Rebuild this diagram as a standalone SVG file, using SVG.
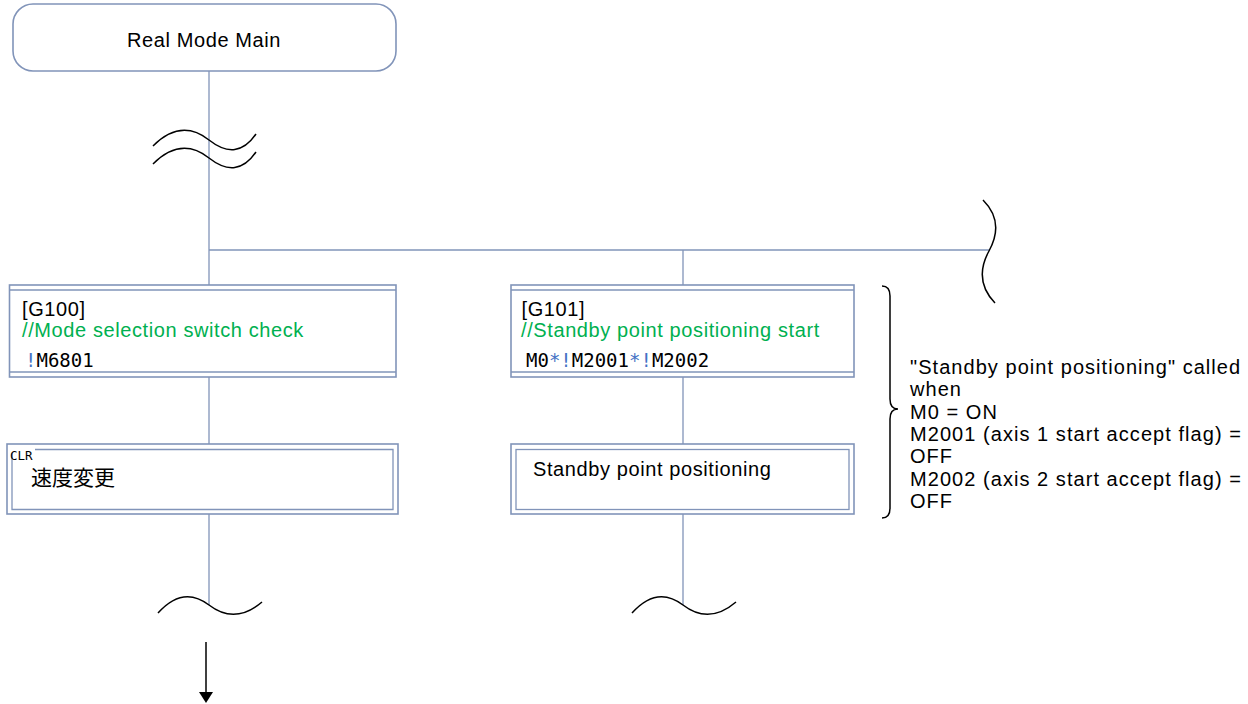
<svg xmlns="http://www.w3.org/2000/svg" width="1248" height="704" viewBox="0 0 1248 704">
<style>
.box{fill:#fff;stroke:#8194b9;stroke-width:1.6}
.ln{fill:none;stroke:#8194b9;stroke-width:1.3}
.blk{fill:none;stroke:#000;stroke-width:1.5}
.t{font-family:"Liberation Sans",Arial,sans-serif;font-size:20px;letter-spacing:0.6px;fill:#000}
.g{fill:#00b050}
.m{font-family:"DejaVu Sans Mono","Liberation Mono",monospace;font-size:19px;fill:#000}
.b{fill:#4472c4}
.a{font-family:"Liberation Sans",Arial,sans-serif;font-size:20px;letter-spacing:1.05px;fill:#000}
</style>
<rect width="1248" height="704" fill="#fff"/>
<g id="connectors">
<line class="ln" x1="209" y1="71" x2="209" y2="285"/>
<line class="ln" x1="209" y1="250" x2="989" y2="250"/>
<line class="ln" x1="683" y1="250" x2="683" y2="285"/>
<line class="ln" x1="209" y1="377" x2="209" y2="444"/>
<line class="ln" x1="683" y1="377" x2="683" y2="444"/>
<line class="ln" x1="209" y1="514" x2="209" y2="605"/>
<line class="ln" x1="683" y1="514" x2="683" y2="605"/>
<path class="blk" d="M206,642 L206,693"/>
<polygon points="199,692 213,692 206,703" fill="#000"/>
</g>
<g id="breaks">
<path class="blk" d="M153,146 Q181,118 209,140 T256,134"/>
<path class="blk" d="M153,164 Q181,136 209,158 T256,152"/>
<path class="blk" d="M158,613 Q183,585 209,605 T262,602"/>
<path class="blk" d="M632,613 Q657,585 683,605 T736,602"/>
<path class="blk" d="M983,200 Q1005,222 989,251 T995,303"/>
</g>
<g id="start">
<rect class="box" x="13" y="4" width="383" height="67" rx="20" ry="20"/>
<text class="t" x="204" y="47" text-anchor="middle">Real Mode Main</text>
</g>
<g id="g100">
<rect class="box" x="9.5" y="285" width="386.5" height="92"/>
<line class="ln" x1="9.5" y1="290" x2="396" y2="290"/>
<line class="ln" x1="9.5" y1="372" x2="396" y2="372"/>
<text class="t" x="22" y="316">[G100]</text>
<text class="t g" x="22" y="337">//Mode selection switch check</text>
<text class="m" x="25" y="367"><tspan class="b">!</tspan>M6801</text>
</g>
<g id="g101">
<rect class="box" x="511" y="285" width="343" height="92"/>
<line class="ln" x1="511" y1="290" x2="854" y2="290"/>
<line class="ln" x1="511" y1="372" x2="854" y2="372"/>
<text class="t" x="521.5" y="316">[G101]</text>
<text class="t g" x="521" y="337">//Standby point positioning start</text>
<text class="m" x="526" y="367">M0<tspan class="b">*!</tspan>M2001<tspan class="b">*!</tspan>M2002</text>
</g>
<g id="clr">
<rect class="box" x="7" y="444" width="391" height="70"/>
<path class="ln" d="M35,449.5 L393,449.5 L393,509.5 L12,509.5 L12,453"/>
<text x="10" y="459.5" style="font-family:'DejaVu Sans Mono','Liberation Mono',monospace;font-size:12.5px;fill:#000">CLR</text>
<text x="31" y="485" style="font-family:'Noto Sans CJK JP',sans-serif;font-size:21px;fill:#000">速度変更</text>
</g>
<g id="standby">
<rect class="box" x="511" y="444" width="343" height="70"/>
<rect class="ln" x="516" y="449.5" width="333" height="60"/>
<text class="t" x="533" y="476">Standby point positioning</text>
</g>
<g id="note">
<path class="blk" d="M882,286 Q890,286 890,296 L890,399 Q890,409 898,409 Q890,409 890,419 L890,508 Q890,518 882,518"/>
<text class="a" x="910" y="374">"Standby point positioning" called</text>
<text class="a" x="910" y="396.3">when</text>
<text class="a" x="910" y="418.6">M0 = ON</text>
<text class="a" x="910" y="440.9">M2001 (axis 1 start accept flag) =</text>
<text class="a" x="910" y="463.2">OFF</text>
<text class="a" x="910" y="485.5">M2002 (axis 2 start accept flag) =</text>
<text class="a" x="910" y="507.8">OFF</text>
</g>
</svg>
